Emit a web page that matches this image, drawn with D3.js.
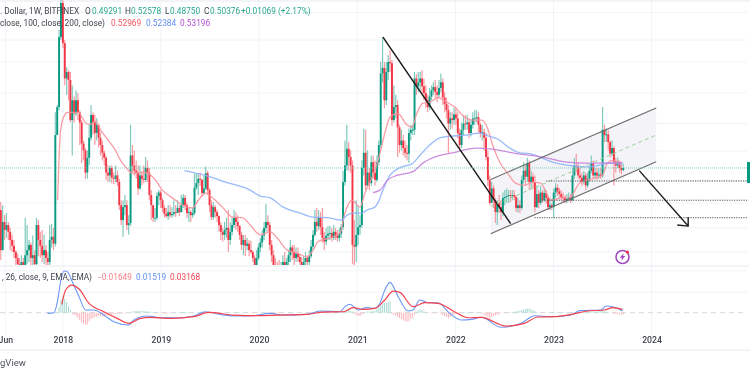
<!DOCTYPE html>
<html><head><meta charset="utf-8">
<script src="https://cdn.jsdelivr.net/npm/d3@7"></script>
<style>
html,body{margin:0;padding:0;background:#fff;overflow:hidden}
svg{display:block;filter:blur(0.4px)}
text{font-family:Roboto,"Liberation Sans",sans-serif}
</style></head><body><svg id="c" width="750" height="375"></svg>
<script>
const firstOpen=0.325;
const closes=[
.214,.287,.264,.278,.259,.238,.224,.21,.197,.185,
.178,.189,.178,.203,.214,.226,.197,.203,.185,.278,
.238,.224,.203,.214,.197,.189,.238,.246,.229,.71,
.95,1.97,2.81,1.85,1.28,1.37,1.26,.83,1.02,.89,
1.02,.90,.81,.65,.605,.48,.56,.69,.875,.81,
.725,.79,.69,.64,.59,.56,.48,.466,.504,.455,
.45,.466,.435,.342,.293,.335,.342,.278,.284,.574,
.517,.49,.48,.407,.466,.45,.445,.504,.48,.38,
.342,.30,.30,.376,.39,.36,.332,.312,.305,.318,
.308,.312,.318,.315,.332,.318,.342,.369,.342,.315,
.318,.308,.315,.41,.43,.45,.445,.388,.407,.477,
.40,.342,.302,.335,.318,.305,.278,.259,.251,.264,
.27,.238,.259,.278,.30,.287,.275,.251,.226,.238,
.224,.229,.214,.21,.197,.183,.197,.22,.232,.249,
.27,.287,.278,.226,.203,.183,.178,.174,.171,.18,
.189,.178,.189,.203,.22,.21,.197,.206,.199,.189,
.181,.189,.197,.189,.201,.222,.251,.287,.275,.302,
.272,.243,.234,.249,.254,.256,.243,.259,.249,.243,
.254,.272,.435,.517,.615,.565,.517,.226,.222,.251,
.272,.278,.504,.59,.42,.48,.43,.535,.48,.445,
.535,.64,1.35,1.43,1.02,1.37,1.52,1.50,.83,.95,
.97,.77,.64,.67,.62,.59,.585,.725,.75,.75,
1.28,1.18,1.23,1.28,1.18,1.10,1.02,.95,1.06,1.13,
1.17,1.11,1.08,1.16,1.23,1.05,.98,.92,.80,.845,
.83,.88,.845,.725,.64,.75,.80,.795,.81,.725,
.79,.845,.845,.855,.79,.725,.73,.69,.565,.445,
.35,.407,.36,.318,.35,.335,.318,.369,.372,.376,
.38,.376,.38,.372,.332,.342,.332,.445,.49,.46,
.53,.435,.46,.435,.335,.384,.35,.39,.36,.388,
.369,.335,.342,.335,.39,.41,.395,.384,.372,.369,
.36,.365,.372,.36,.466,.517,.51,.466,.455,.435,
.466,.42,.45,.49,.53,.466,.48,.466,.47,.466,
.75,.71,.715,.66,.585,.62,.535,.517,.535,.504,.493,.50376];
const highs=[
.353,.342,.308,.315,.287,.27,.251,.238,.214,.206,
.197,.203,.197,.30,.278,.238,.232,.249,.214,.30,
.293,.259,.264,.251,.226,.21,.278,.281,.27,.90,
.97,2.12,3.07,2.9,1.91,1.44,1.40,1.37,1.19,1.06,
1.13,1.10,.92,.83,.67,.62,.605,.79,.97,.90,
.88,.845,.79,.73,.67,.605,.574,.517,.517,.517,
.48,.517,.49,.45,.36,.36,.38,.36,.308,.79,
.64,.605,.545,.517,.517,.49,.517,.565,.545,.504,
.40,.342,.332,.39,.40,.40,.369,.342,.332,.342,
.342,.335,.36,.342,.36,.342,.38,.384,.38,.35,
.332,.325,.332,.477,.477,.477,.48,.45,.466,.51,
.49,.407,.36,.353,.342,.325,.308,.287,.27,.287,
.30,.325,.287,.30,.325,.318,.308,.278,.259,.251,
.251,.243,.238,.236,.214,.203,.214,.229,.243,.264,
.287,.346,.308,.287,.238,.214,.197,.189,.193,.189,
.203,.21,.197,.214,.238,.226,.226,.22,.22,.206,
.199,.201,.21,.203,.214,.238,.264,.325,.332,.325,
.318,.332,.259,.27,.275,.275,.27,.278,.27,.264,
.27,.281,.49,.67,.79,.66,.605,.545,.293,.36,
.342,.308,.545,.76,.75,.605,.504,.574,.574,.545,
.574,.67,1.52,1.97,1.52,1.52,1.63,1.72,1.55,1.19,
1.08,1.02,.79,.75,.71,.67,.64,.76,.79,.79,
1.37,1.34,1.37,1.37,1.40,1.28,1.19,1.08,1.16,1.19,
1.23,1.26,1.19,1.26,1.35,1.28,1.11,1.05,.97,.90,
.90,.94,.94,.90,.76,.81,.875,.875,.875,.845,
.83,.90,.92,.92,.90,.81,.79,.76,.725,.605,
.466,.435,.42,.369,.36,.38,.36,.39,.40,.407,
.40,.40,.40,.40,.38,.369,.36,.466,.535,.517,
.56,.545,.49,.48,.466,.42,.40,.417,.40,.407,
.40,.376,.369,.35,.407,.43,.425,.41,.40,.39,
.38,.384,.39,.384,.504,.56,.585,.535,.504,.48,
.49,.48,.48,.517,.574,.545,.504,.504,.504,.504,
.95,.79,.76,.75,.67,.67,.63,.56,.56,.545,.525,.52578];
const lows=[
.193,.214,.238,.243,.238,.214,.21,.197,.181,.166,
.166,.174,.166,.178,.185,.189,.178,.178,.166,.183,
.201,.197,.189,.185,.183,.178,.183,.22,.214,.222,
.71,.92,1.91,1.76,1.19,1.08,1.02,.81,.574,.81,
.865,.83,.64,.53,.545,.45,.45,.517,.67,.71,
.64,.67,.625,.574,.545,.517,.445,.435,.435,.43,
.425,.435,.417,.325,.278,.246,.308,.264,.251,.275,
.48,.466,.45,.38,.40,.42,.43,.435,.435,.36,
.293,.287,.287,.293,.342,.332,.318,.30,.30,.293,
.30,.30,.305,.302,.315,.305,.318,.332,.325,.30,
.287,.287,.30,.308,.40,.38,.417,.372,.38,.40,
.38,.318,.293,.293,.30,.287,.259,.238,.234,.238,
.243,.21,.226,.249,.27,.264,.259,.238,.214,.203,
.201,.214,.201,.206,.189,.178,.178,.193,.21,.22,
.238,.259,.259,.214,.189,.171,.166,.157,.157,.161,
.171,.166,.171,.174,.189,.193,.183,.189,.189,.178,
.174,.178,.181,.178,.183,.197,.214,.246,.259,.264,
.251,.232,.214,.226,.238,.238,.234,.238,.238,.234,
.234,.243,.264,.42,.49,.49,.48,.185,.174,.189,
.226,.251,.27,.466,.40,.417,.40,.417,.45,.42,
.435,.517,.62,1.23,.94,.97,1.26,1.37,.78,.81,
.845,.565,.59,.605,.574,.56,.545,.53,.67,.71,
.71,1.08,1.11,1.13,1.08,1.02,.94,.90,.92,1.02,
1.08,1.05,1.00,1.05,1.11,.97,.90,.845,.585,.75,
.76,.79,.79,.685,.605,.62,.71,.75,.75,.685,
.70,.76,.79,.81,.73,.69,.67,.605,.545,.417,
.342,.36,.332,.284,.278,.315,.293,.305,.342,.35,
.35,.353,.36,.36,.318,.318,.315,.325,.43,.42,
.435,.40,.407,.407,.318,.332,.332,.342,.35,.353,
.346,.325,.325,.325,.30,.369,.376,.369,.36,.353,
.35,.35,.356,.35,.356,.45,.48,.45,.435,.417,
.425,.40,.41,.435,.477,.45,.45,.445,.45,.45,
.455,.66,.66,.605,.56,.57,.42,.48,.504,.48,.47,.4875];

const redWeeks=[30.2,31.8,33.4,35.5,38.2,41.4,43.5,45.6,47.7,50.4,53,57.3,61,63.7,66.3,70,76.9,82.2,85.9,91.2,96.6,101.9,105,108.8,112.5,117.8,123.1,128.4,132.6,137.9,143.2,147,152.3,157.6,162.9,166,168.7,175,180.4,183,186.7,191,193.6,198.9,201.6,204.2,206.9,211.1,215.9,218.6,221.2,224.4,228.1,232.4,237.1,241.4,246.7,250.9,255.7,258.9,261.5,265.3,269.5,273.7,278.5,282.8,287,292.8,298.1,302.4,307.7,314.6,319.9,322.5,325.2,330.5];
const redValues=[.36,.75,.855,.90,.90,.90,.845,.80,.795,.82,.75,.67,.605,.545,.51,.477,.48,.445,.40,.369,.342,.332,.36,.388,.369,.335,.302,.30,.278,.251,.259,.243,.214,.208,.199,.214,.234,.243,.256,.315,.36,.335,.388,.49,.585,.725,.855,.89,.79,.77,.89,.99,1.00,1.05,1.00,.95,.855,.83,.83,.76,.64,.535,.477,.43,.42,.435,.43,.36,.369,.369,.43,.45,.466,.53,.545,.52969];
const blueWeeks=[97.6,108.8,119.4,132.6,137.9,143.2,150.1,159.2,166,173.5,181.4,184.1,187.3,192,194.7,198.9,200.5,203.2,206.9,209.5,213.3,218.6,222.8,228.1,233.4,238.7,247.7,254.6,259.9,263.7,270.6,275.9,281.2,287.5,293.4,302.4,310.3,316.7,323.6,330.5];
const blueValues=[.49,.466,.435,.40,.376,.369,.335,.315,.302,.30,.293,.308,.315,.315,.325,.335,.35,.40,.466,.49,.51,.525,.574,.64,.69,.70,.71,.725,.70,.685,.62,.59,.585,.56,.535,.517,.51,.515,.53,.52384];
const purpleWeeks=[197.9,201.6,205.8,210.6,219.1,224.4,233.4,240.3,253,259.9,272.1,290.2,300.8,311.4,318.3,330.5];
const purpleValues=[.39,.40,.445,.466,.485,.53,.574,.59,.62,.615,.59,.56,.535,.53,.53,.53196];

const macdWeeks=[24.8,28.3,30.1,31.8,33.6,35.4,38,41.6,45.1,49.5,54.8,60.1,68.1,70.7,77.8,84.9,95.5,102.6,108.8,116.7,123.8,134.4,143.2,150.3,162.7,169.8,180.4,183,185.7,190.1,194.5,198.9,201.6,204.2,206.9,211.3,216.6,219.2,222.8,227.2,232.5,238.7,244.9,250.2,255.5,266.1,276.7,283.8,292.6,303.2,307.7,319.1,321.8,326.2,330.6];
const macdValues=[-.006,0,.102,.288,.388,.381,.288,.149,.025,.025,-.022,-.084,-.115,-.068,-.031,-.047,-.047,-.031,.009,-.016,-.031,-.028,-.006,-.022,-.016,.016,.009,.056,.078,.025,.047,.04,.087,.211,.282,.149,.016,.025,.118,.093,.093,-.006,-.068,-.062,-.043,-.136,-.099,-.028,-.037,-.022,.019,.025,.062,.05,.01519];
const signalWeeks=[32.4,34.5,37.7,41.6,46.9,54.8,61.9,68.1,74.3,79.6,90.2,102.6,110.5,123.8,137.9,146.8,162.7,171.5,182.1,187.4,192.8,198.9,204.2,208.6,212.2,219.2,225.4,232.5,241.3,248.4,255.5,268.7,278.5,285.5,294.4,303.2,312.1,320.9,325.3,330.6];
const signalValues=[.078,.211,.257,.22,.087,.009,-.053,-.099,-.053,-.043,-.053,-.037,.003,-.022,-.028,-.022,-.016,.006,.009,.047,.031,.04,.118,.2,.189,.056,.093,.087,.009,-.047,-.043,-.124,-.099,-.04,-.037,-.016,.016,.025,.047,.03168];
const histStart=31;
const histValues=[.05,.12,.15,.13,.10,.06,.03,
-.015,-.02,-.03,-.05,-.07,-.09,-.10,-.11,-.11,-.08,
-.06,-.05,-.04,-.04,-.03,-.03,-.035,-.04,-.03,-.025,
-.02,-.02,-.015,-.01,-.01,-.01,-.01,-.008,-.005,-.003,
.002,.005,.012,.015,.016,.018,.015,.014,.016,.014,
.012,.01,.006,.003,-.002,-.004,-.005,-.006,-.005,-.008,
-.005,-.004,-.003,-.002,.001,.002,.003,.004,.005,.006,
.007,.005,.004,.002,.001,-.001,.004,.006,.008,.005,
.004,.002,-.002,-.004,-.006,-.007,-.006,-.004,-.003,-.002,
-.002,.001,.002,.003,.002,.003,.004,.005,.003,.002,
.001,-.001,-.002,-.003,-.002,-.002,-.004,-.005,-.004,-.002,
-.001,.002,.004,.005,.004,.002,.001,-.002,-.003,-.004,
-.003,-.002,-.001,.001,.002,.002,.003,.002,.001,.001,
.001,.001,.002,.002,.003,.003,.004,.005,.006,.006,
.005,.004,.004,.003,.003,.002,.002,.002,.003,.003,
.004,.005,.006,.008,.012,.02,.03,.03,.02,.01,
-.01,-.02,-.03,-.03,-.02,-.01,.005,.01,.01,.012,.014,
.02,.04,.06,.07,.08,.09,.095,.1,.1,
-.01,-.02,-.03,-.04,-.05,-.06,-.07,-.08,-.085,-.08,-.06,-.05,
-.02,.01,.02,.03,.025,.015,.005,.002,-.002,-.003,-.004,-.005,-.003,-.002,
-.01,-.02,-.03,-.04,-.05,-.04,-.03,-.02,-.01,-.005,
-.003,-.002,.002,.004,.006,.008,.006,.005,.006,.004,.002,-.002,-.005,
-.02,-.03,-.04,-.05,-.04,-.03,-.025,-.02,-.01,-.006,
-.004,-.003,-.002,.002,.004,.006,
.01,.012,.015,.02,.025,.03,.035,.04,.04,.03,.025,.015,.008,
.003,-.002,-.004,-.003,-.002,.002,.003,.004,.005,.005,.004,.003,.002,.002,.003,.004,.005,.006,.006,
.008,.01,.009,.008,.006,.005,.008,.01,.008,.006,.008,.01,.012,.015,.018,.02,.014,.01,.006,.002,
-.005,-.01,-.012,-.015,-.016,-.0165,-.0165];

const gridPrices=[2.54,1.91,1.52,1.10,.80,.60,.44,.35,.27,.21];
const macdGrid=[.39,.19];
const axisDates=["2017-06-01","2018-01-01","2019-01-01","2020-01-01","2021-01-01","2022-01-01","2023-01-01","2024-01-01"];
const axisLabels=["Jun","2018","2019","2020","2021","2022","2023","2024"];
const fallLine=[[203.2,1.97],[271.1,.282]];
const channelUpper=[[260.5,.447],[348.5,.94]];
const channelMiddle=[[260.5,.337],[348.5,.71]];
const channelLower=[[260.5,.254],[348.5,.537]];
const arrowLine=[[339.5,.49],[365.5,.275]];
const arrowHead=[[359.7,.278],[365.5,.275],[365.5,.302]];
const levelPrices=[.44,.36,.30];
const levelWeeks=[290,286.5,283.8];
const lastPrice=.50376;

const startDate=new Date(Date.UTC(2017,4,15));
const weekDate=w=>new Date(+startDate+w*7*864e5);
const W=750,paneR=747,paneT=0,paneB=265,macdT=267,macdB=337;
const x=d3.scaleUtc().domain([startDate,new Date(Date.UTC(2024,0,1))]).range([0.8,651.5]);
const xw=w=>x(weekDate(w));
const y=d3.scaleLog().domain([2.9,.174]).range([0,270]);
const ym=d3.scaleLinear().domain([0,.1]).range([312.7,301.95]);
const svg=d3.select("#c");
const defs=svg.append("defs");
defs.append("clipPath").attr("id","pa").append("rect").attr("x",0).attr("y",paneT).attr("width",paneR).attr("height",paneB-paneT);
defs.append("clipPath").attr("id","pm").append("rect").attr("x",0).attr("y",macdT).attr("width",paneR).attr("height",macdB-macdT);

const years=axisDates.map(d=>new Date(d+"T00:00:00Z"));
const gridCol="#f2f3f6";
const gv=svg.append("g");
years.forEach(d=>{gv.append("line").attr("x1",x(d)).attr("x2",x(d)).attr("y1",1).attr("y2",337).attr("stroke",gridCol).attr("stroke-width",1);});
gridPrices.forEach(p=>svg.append("line").attr("x1",0).attr("x2",paneR).attr("y1",y(p)).attr("y2",y(p)).attr("stroke",gridCol));
macdGrid.forEach(p=>svg.append("line").attr("x1",0).attr("x2",paneR).attr("y1",ym(p)).attr("y2",ym(p)).attr("stroke",gridCol));
[1,266,350].forEach(v=>svg.append("line").attr("x1",0).attr("x2",W).attr("y1",v).attr("y2",v).attr("stroke","#e8eaef").attr("stroke-width",1.2));

const main=svg.append("g").attr("clip-path","url(#pa)");
const pathFn=d3.line().x(d=>xw(d[0])).y(d=>y(d[1]));
main.append("path").attr("d",pathFn([...channelUpper,channelLower[1],channelLower[0]])).attr("fill","#f4f4f8");

const UP="#089981",DN="#f23645";
const candles=closes.map((c,i)=>({i,c,o:i?closes[i-1]:firstOpen,h:highs[i],l:lows[i]}));
main.append("g").selectAll("line").data(candles).join("line")
 .attr("x1",d=>xw(d.i)).attr("x2",d=>xw(d.i)).attr("y1",d=>y(d.h)).attr("y2",d=>y(d.l))
 .attr("stroke",d=>d.c>=d.o?"#7fcabd":"#f89aa2").attr("stroke-width",1.2);
main.append("g").selectAll("rect").data(candles).join("rect")
 .attr("x",d=>xw(d.i)-.95).attr("width",1.9)
 .attr("y",d=>Math.min(y(d.o),y(d.c))).attr("height",d=>Math.max(1,Math.abs(y(d.o)-y(d.c))))
 .attr("fill",d=>d.c>=d.o?UP:DN);

const smooth=d3.line().x(d=>xw(d[0])).y(d=>y(d[1])).curve(d3.curveMonotoneX);
const ma=(w,v,col)=>main.append("path").attr("d",smooth(w.map((k,i)=>[k,v[i]]))).attr("fill","none").attr("stroke",col).attr("stroke-width",1.3).attr("stroke-opacity",.9);
ma(redWeeks,redValues,"#f8929b");ma(blueWeeks,blueValues,"#8db2fa");ma(purpleWeeks,purpleValues,"#c481dc");

const pl=(pts,col,w,dash)=>main.append("path").attr("d",pathFn(pts)).attr("fill","none").attr("stroke",col).attr("stroke-width",w).attr("stroke-dasharray",dash||null);
pl(fallLine,"#1c1c1c",1.5);
pl(channelUpper,"#6a6a6a",1.1);pl(channelLower,"#6a6a6a",1.1);
pl(channelMiddle,"#9ed09e",1,"4 3");
levelPrices.forEach((p,i)=>main.append("line").attr("x1",xw(levelWeeks[i])).attr("x2",paneR).attr("y1",y(p)).attr("y2",y(p)).attr("stroke","#555").attr("stroke-width",1).attr("stroke-dasharray","1.2 1.2"));
pl(arrowLine,"#1c1c1c",1.4);pl(arrowHead,"#1c1c1c",1.4);
main.append("line").attr("x1",0).attr("x2",paneR).attr("y1",y(lastPrice)).attr("y2",y(lastPrice)).attr("stroke","#7fcabd").attr("stroke-width",1).attr("stroke-dasharray","1 1");
svg.append("rect").attr("x",747).attr("y",y(lastPrice)-6).attr("width",3).attr("height",21).attr("fill",UP);

const ic=svg.append("g").attr("transform","translate(622.5,257)");
ic.append("circle").attr("r",6.5).attr("fill","#fff").attr("stroke","#a04bc4").attr("stroke-width",1.6);
ic.append("path").attr("d","M1.4,-4 L-2.8,0.7 L-0.4,0.7 L-1.4,4 L2.8,-0.9 L0.4,-0.9 Z").attr("fill","#a04bc4");
ic.append("circle").attr("cx",5).attr("cy",-5).attr("r",1.6).attr("fill","#f23645");

const mac=svg.append("g").attr("clip-path","url(#pm)");
mac.append("line").attr("x1",0).attr("x2",paneR).attr("y1",ym(0)).attr("y2",ym(0)).attr("stroke","#d6d8dd").attr("stroke-dasharray","5 4");
mac.append("g").selectAll("rect").data(histValues).join("rect")
 .attr("x",(d,i)=>xw(histStart+i)-.5).attr("width",1)
 .attr("y",d=>Math.min(ym(0),ym(d))).attr("height",d=>Math.abs(ym(d)-ym(0)))
 .attr("fill",d=>d>=0?"#a6dad0":"#fab6bb");
const ml=d3.line().x(d=>xw(d[0])).y(d=>ym(d[1])).curve(d3.curveMonotoneX);
mac.append("path").attr("d",ml(macdWeeks.map((k,i)=>[k,macdValues[i]]))).attr("fill","none").attr("stroke","#6b97f5").attr("stroke-width",1.1);
mac.append("path").attr("d",ml(signalWeeks.map((k,i)=>[k,signalValues[i]]))).attr("fill","none").attr("stroke","#f2424f").attr("stroke-width",1.2);

const ax=svg.append("g").attr("transform","translate(0,337)").call(d3.axisBottom(x).tickValues(years).tickSize(0).tickPadding(0).tickFormat((d,i)=>axisLabels[i]));
ax.select(".domain").remove();
ax.selectAll("text").attr("y",0).attr("dy","0.71em").attr("font-family","Roboto,sans-serif").attr("font-size",8.7).attr("font-weight",500).attr("fill","#3f434d");

const t=(s,xp,yp,col,anchor)=>svg.append("text").attr("x",xp).attr("y",yp).attr("font-size",8.3).attr("fill",col).attr("text-anchor",anchor||"start").text(s);
const G="#3f434d",GR="#2aa890";
t(". Dollar, 1W, BITFINEX",0,14,G);
t("O",85,14,G);t("0.49291",92,14,GR);
t("H",125,14,G);t("0.52578",131,14,GR);
t("L",165,14,G);t("0.48750",170,14,GR);
t("C",204,14,G);t("0.50376",210,14,GR);
t("+0.01069 (+2.17%)",241,14,GR);
t("close, 100, close, 200, close)",0,26,G);
t("0.52969",111,26,"#f7525f");t("0.52384",146,26,"#5f8ff5");t("0.53196",180,26,"#b04ed0");
t(", 26, close, 9, EMA, EMA)",2,280,G);
t("\u22120.01649",97,280,"#f77c86");t("0.01519",136,280,"#5f8ff5");t("0.03168",170,280,"#f2424f");
svg.append("text").attr("x",0).attr("y",366).attr("font-size",9.5).attr("fill","#50535e").text("gView");
</script></body></html>
